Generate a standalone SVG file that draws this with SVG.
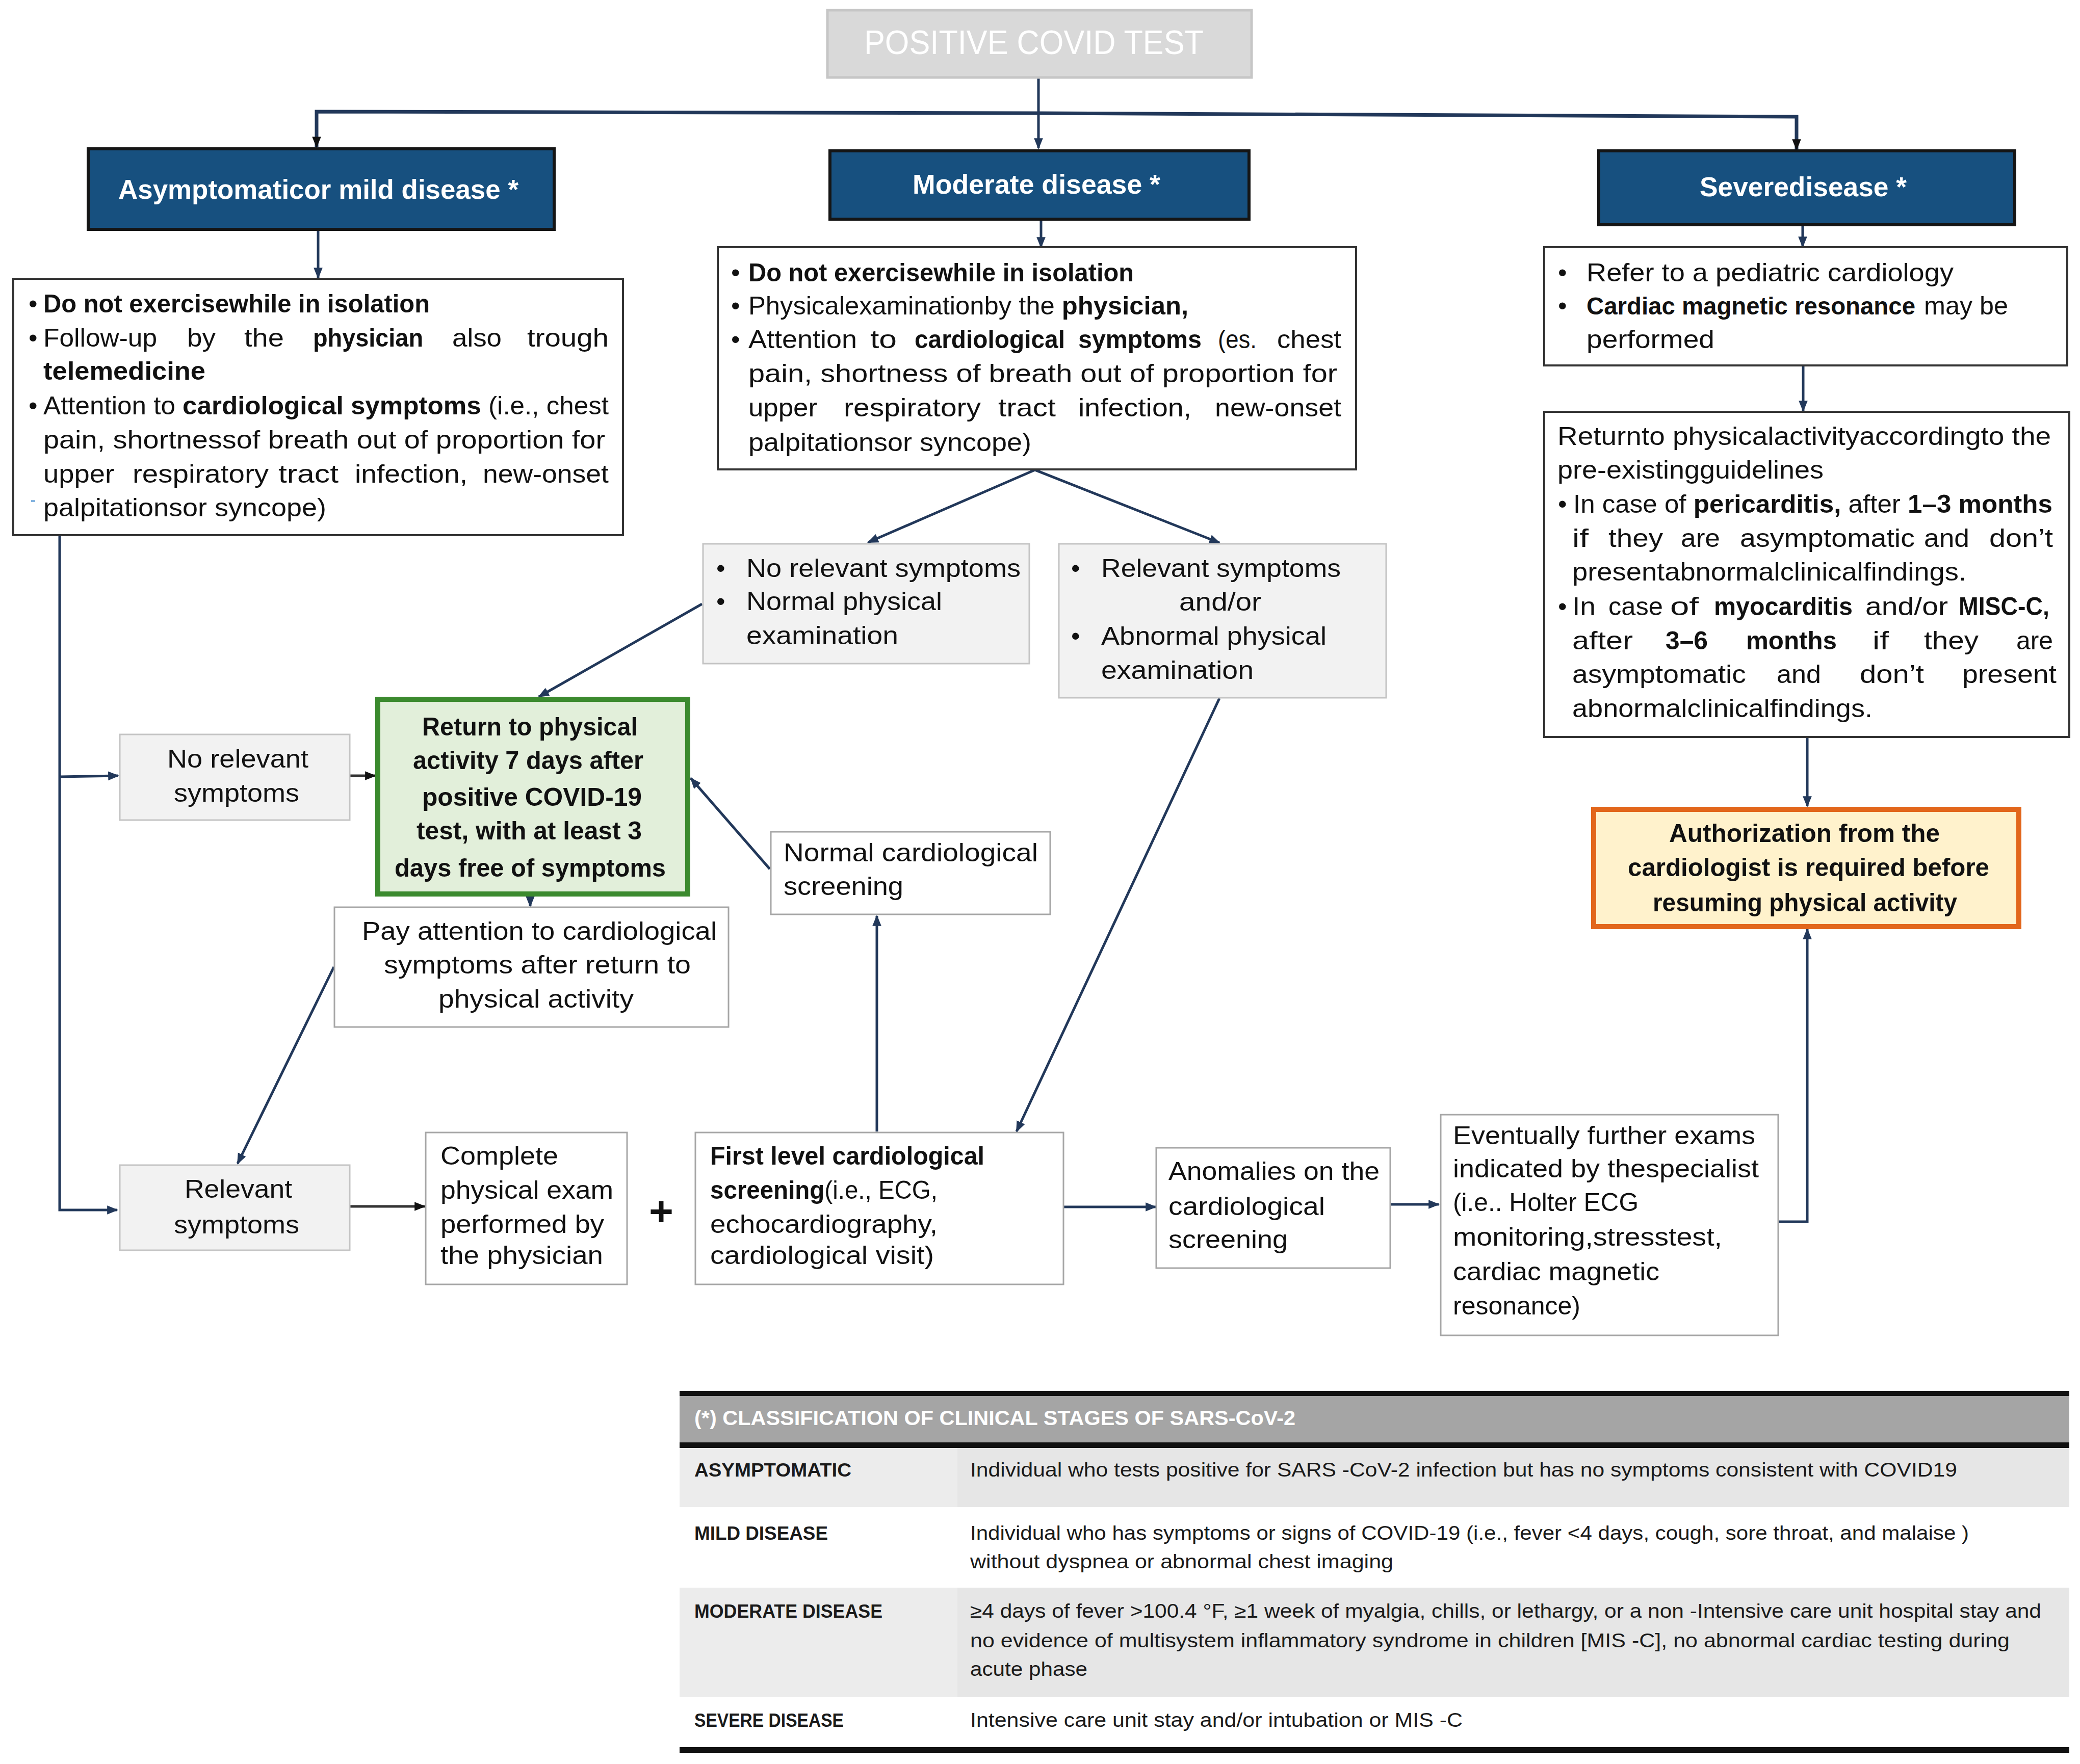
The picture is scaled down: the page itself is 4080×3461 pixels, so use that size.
<svg xmlns="http://www.w3.org/2000/svg" width="4080" height="3461" viewBox="0 0 4080 3461">
<defs>
<style>
text{font-family:"Liberation Sans",Arial,sans-serif;font-size:50px;fill:#111}
.b{font-weight:bold}
.w{fill:#fff}
.hdr{font-weight:bold;font-size:54px;fill:#fff}
.tb{font-size:38px;fill:#1a1a1a}
.tl{font-size:36px;font-weight:bold;fill:#1a1a1a}
.blue{fill:#17507f;stroke:#151515;stroke-width:6}
.dark{fill:#fff;stroke:#333;stroke-width:4}
.gray{fill:#f2f2f2;stroke:#c4c4c4;stroke-width:3}
.wht{fill:#fff;stroke:#a6a6a6;stroke-width:3}
.con{fill:none;stroke:#22385a;stroke-width:5}
</style>
<marker id="ah" viewBox="0 0 10 10" refX="9" refY="5" markerWidth="22" markerHeight="22" markerUnits="userSpaceOnUse" orient="auto"><path d="M0,1 L10,5 L0,9 z" fill="#22385a"/></marker>
<marker id="ahk" viewBox="0 0 10 10" refX="9" refY="5" markerWidth="22" markerHeight="22" markerUnits="userSpaceOnUse" orient="auto"><path d="M0,1 L10,5 L0,9 z" fill="#111"/></marker>
</defs>
<rect width="4080" height="3461" fill="#fff"/>

<g id="connectors">
<path class="con" d="M2037,153 L2037,291" marker-end="url(#ah)"/>
<path class="con" style="stroke-width:7" d="M2037,222 L621,219 L621,288" marker-end="url(#ahk)"/>
<path class="con" style="stroke-width:7" d="M2037,222 L3524,229 L3524,293" marker-end="url(#ahk)"/>
<path class="con" d="M624,451 L624,545" marker-end="url(#ah)"/>
<path class="con" d="M2042,430 L2042,485" marker-end="url(#ah)"/>
<path class="con" d="M3536,441 L3536,484" marker-end="url(#ah)"/>
<path class="con" d="M3537,717 L3537,806" marker-end="url(#ah)"/>
<path class="con" d="M3545,1446 L3545,1582" marker-end="url(#ah)"/>
<path class="con" d="M2030,922 L1703,1064" marker-end="url(#ah)"/>
<path class="con" d="M2030,922 L2392,1065" marker-end="url(#ah)"/>
<path class="con" d="M1377,1185 L1057,1367" marker-end="url(#ah)"/>
<path class="con" d="M2392,1370 L1994,2220" marker-end="url(#ah)"/>
<path class="con" d="M117,1051 L117,2374 L230,2374" marker-end="url(#ah)"/>
<path class="con" d="M117,1524 L232,1522" marker-end="url(#ah)"/>
<path class="con" style="stroke:#333" d="M686,1522 L736,1522" marker-end="url(#ahk)"/>
<path class="con" d="M1040,1760 L1040,1778" marker-end="url(#ah)"/>
<path class="con" d="M1510,1705 L1355,1527" marker-end="url(#ah)"/>
<path class="con" d="M1720,2220 L1720,1797" marker-end="url(#ah)"/>
<path class="con" d="M655,1897 L466,2283" marker-end="url(#ah)"/>
<path class="con" style="stroke:#333" d="M686,2367 L833,2367" marker-end="url(#ahk)"/>
<path class="con" d="M2087,2368 L2267,2368" marker-end="url(#ah)"/>
<path class="con" d="M2729,2363 L2822,2363" marker-end="url(#ah)"/>
<path class="con" d="M3490,2397 L3545,2397 L3545,1823" marker-end="url(#ah)"/>
</g>

<g id="title">
<rect x="1623" y="20" width="832" height="132" fill="#d9d9d9" stroke="#c6c6c6" stroke-width="5"/>
<text class="w" x="1695" y="106" style="font-size:66px" textLength="666" lengthAdjust="spacingAndGlyphs">POSITIVE COVID TEST</text>
</g>

<g id="hdr-asym">
<rect class="blue" x="173" y="292" width="914" height="158"/>
<text class="hdr" x="232" y="390" textLength="785" lengthAdjust="spacingAndGlyphs">Asymptomaticor mild disease *</text>
</g>
<g id="hdr-moderate">
<rect class="blue" x="1628" y="296" width="822" height="134"/>
<text class="hdr" x="1790" y="380" textLength="486" lengthAdjust="spacingAndGlyphs">Moderate disease *</text>
</g>
<g id="hdr-severe">
<rect class="blue" x="3136" y="296" width="816" height="145"/>
<text class="hdr" x="3334" y="385" textLength="406" lengthAdjust="spacingAndGlyphs">Severedisease *</text>
</g>

<g id="box-asym">
<rect class="dark" x="26" y="547" width="1196" height="503"/>
<text x="56" y="613">•</text>
<text class="b" x="85" y="613" textLength="758" lengthAdjust="spacingAndGlyphs">Do not exercisewhile in isolation</text>
<text x="56" y="680">•</text>
<text y="680"><tspan x="85" textLength="223" lengthAdjust="spacingAndGlyphs">Follow-up</tspan> <tspan x="367" textLength="56" lengthAdjust="spacingAndGlyphs">by</tspan> <tspan x="479" textLength="78" lengthAdjust="spacingAndGlyphs">the</tspan> <tspan class="b" x="614" textLength="216" lengthAdjust="spacingAndGlyphs">physician</tspan> <tspan x="887" textLength="97" lengthAdjust="spacingAndGlyphs">also</tspan> <tspan x="1034" textLength="160" lengthAdjust="spacingAndGlyphs">trough</tspan></text>
<text class="b" x="85" y="745" textLength="318" lengthAdjust="spacingAndGlyphs">telemedicine</text>
<text x="56" y="813">•</text>
<text x="85" y="813" textLength="1109" lengthAdjust="spacingAndGlyphs">Attention to <tspan class="b">cardiological symptoms</tspan> (i.e., chest</text>
<text x="85" y="880" textLength="1102" lengthAdjust="spacingAndGlyphs">pain, shortnessof breath out of proportion for</text>
<text y="947"><tspan x="85" textLength="139" lengthAdjust="spacingAndGlyphs">upper</tspan> <tspan x="260" textLength="267" lengthAdjust="spacingAndGlyphs">respiratory</tspan> <tspan x="546" textLength="118" lengthAdjust="spacingAndGlyphs">tract</tspan> <tspan x="696" textLength="221" lengthAdjust="spacingAndGlyphs">infection,</tspan> <tspan x="947" textLength="247" lengthAdjust="spacingAndGlyphs">new-onset</tspan></text>
<line x1="61" y1="983" x2="69" y2="983" stroke="#5b9bd5" stroke-width="3"/>
<text x="85" y="1013" textLength="555" lengthAdjust="spacingAndGlyphs">palpitationsor syncope)</text>
</g>

<g id="box-moderate">
<rect class="dark" x="1408" y="485" width="1252" height="436"/>
<text x="1434" y="552">•</text>
<text class="b" x="1468" y="552" textLength="756" lengthAdjust="spacingAndGlyphs">Do not exercisewhile in isolation</text>
<text x="1434" y="617">•</text>
<text x="1468" y="617" textLength="863" lengthAdjust="spacingAndGlyphs">Physicalexaminationby the <tspan class="b">physician,</tspan></text>
<text x="1434" y="683">•</text>
<text y="683"><tspan x="1468" textLength="213" lengthAdjust="spacingAndGlyphs">Attention</tspan> <tspan x="1707" textLength="52" lengthAdjust="spacingAndGlyphs">to</tspan> <tspan class="b" x="1794" textLength="295" lengthAdjust="spacingAndGlyphs">cardiological</tspan> <tspan class="b" x="2115" textLength="242" lengthAdjust="spacingAndGlyphs">symptoms</tspan> <tspan x="2389" textLength="76" lengthAdjust="spacingAndGlyphs">(es.</tspan> <tspan x="2505" textLength="126" lengthAdjust="spacingAndGlyphs">chest</tspan></text>
<text x="1468" y="750" textLength="1155" lengthAdjust="spacingAndGlyphs">pain, shortness of breath out of proportion for</text>
<text y="817"><tspan x="1468" textLength="135" lengthAdjust="spacingAndGlyphs">upper</tspan> <tspan x="1655" textLength="269" lengthAdjust="spacingAndGlyphs">respiratory</tspan> <tspan x="1958" textLength="113" lengthAdjust="spacingAndGlyphs">tract</tspan> <tspan x="2115" textLength="222" lengthAdjust="spacingAndGlyphs">infection,</tspan> <tspan x="2383" textLength="248" lengthAdjust="spacingAndGlyphs">new-onset</tspan></text>
<text x="1468" y="885" textLength="555" lengthAdjust="spacingAndGlyphs">palpitationsor syncope)</text>
</g>

<g id="box-severe">
<rect class="dark" x="3029" y="485" width="1026" height="232"/>
<text x="3056" y="552">•</text>
<text x="3112" y="552" textLength="720" lengthAdjust="spacingAndGlyphs">Refer to a pediatric cardiology</text>
<text x="3056" y="617">•</text>
<text class="b" x="3112" y="617" style="font-size:48px" textLength="645" lengthAdjust="spacingAndGlyphs">Cardiac magnetic resonance</text>
<text x="3774" y="617" textLength="165" lengthAdjust="spacingAndGlyphs">may be</text>
<text x="3112" y="683" textLength="251" lengthAdjust="spacingAndGlyphs">performed</text>
</g>

<g id="box-severe-return">
<rect class="dark" x="3029" y="808" width="1030" height="638"/>
<text x="3055" y="873" textLength="968" lengthAdjust="spacingAndGlyphs">Returnto physicalactivityaccordingto the</text>
<text x="3055" y="939" textLength="522" lengthAdjust="spacingAndGlyphs">pre-existingguidelines</text>
<text x="3056" y="1006">•</text>
<text x="3086" y="1006" textLength="940" lengthAdjust="spacingAndGlyphs">In case of <tspan class="b">pericarditis,</tspan> after <tspan class="b">1–3 months</tspan></text>
<text y="1073"><tspan x="3084" textLength="32" lengthAdjust="spacingAndGlyphs">if</tspan> <tspan x="3155" textLength="107" lengthAdjust="spacingAndGlyphs">they</tspan> <tspan x="3297" textLength="77" lengthAdjust="spacingAndGlyphs">are</tspan> <tspan x="3413" textLength="343" lengthAdjust="spacingAndGlyphs">asymptomatic</tspan> <tspan x="3774" textLength="89" lengthAdjust="spacingAndGlyphs">and</tspan> <tspan x="3902" textLength="125" lengthAdjust="spacingAndGlyphs">don’t</tspan></text>
<text x="3084" y="1139" textLength="773" lengthAdjust="spacingAndGlyphs">presentabnormalclinicalfindings.</text>
<text x="3056" y="1207">•</text>
<text y="1207"><tspan x="3084" textLength="46" lengthAdjust="spacingAndGlyphs">In</tspan> <tspan x="3155" textLength="107" lengthAdjust="spacingAndGlyphs">case</tspan> <tspan x="3276" textLength="56" lengthAdjust="spacingAndGlyphs">of</tspan> <tspan class="b" x="3362" textLength="272" lengthAdjust="spacingAndGlyphs">myocarditis</tspan> <tspan x="3659" textLength="162" lengthAdjust="spacingAndGlyphs">and/or</tspan> <tspan class="b" x="3842" textLength="178" lengthAdjust="spacingAndGlyphs">MISC-C,</tspan></text>
<text y="1274"><tspan x="3084" textLength="119" lengthAdjust="spacingAndGlyphs">after</tspan> <tspan class="b" x="3267" textLength="83" lengthAdjust="spacingAndGlyphs">3–6</tspan> <tspan class="b" x="3425" textLength="178" lengthAdjust="spacingAndGlyphs">months</tspan> <tspan x="3673" textLength="32" lengthAdjust="spacingAndGlyphs">if</tspan> <tspan x="3774" textLength="107" lengthAdjust="spacingAndGlyphs">they</tspan> <tspan x="3955" textLength="72" lengthAdjust="spacingAndGlyphs">are</tspan></text>
<text y="1340"><tspan x="3084" textLength="341" lengthAdjust="spacingAndGlyphs">asymptomatic</tspan> <tspan x="3485" textLength="87" lengthAdjust="spacingAndGlyphs">and</tspan> <tspan x="3648" textLength="126" lengthAdjust="spacingAndGlyphs">don’t</tspan> <tspan x="3849" textLength="185" lengthAdjust="spacingAndGlyphs">present</tspan></text>
<text x="3084" y="1407" textLength="589" lengthAdjust="spacingAndGlyphs">abnormalclinicalfindings.</text>
</g>

<g id="authorization">
<rect x="3126" y="1588" width="834" height="230" fill="#fff2cc" stroke="#e2661b" stroke-width="10"/>
<text class="b" x="3274" y="1652" textLength="531" lengthAdjust="spacingAndGlyphs">Authorization from the</text>
<text class="b" x="3193" y="1719" textLength="709" lengthAdjust="spacingAndGlyphs">cardiologist is required before</text>
<text class="b" x="3242" y="1788" textLength="597" lengthAdjust="spacingAndGlyphs">resuming physical activity</text>
</g>

<g id="mod-norelevant">
<rect class="gray" x="1379" y="1067" width="640" height="235"/>
<text x="1405" y="1132">•</text>
<text x="1464" y="1132" textLength="538" lengthAdjust="spacingAndGlyphs">No relevant symptoms</text>
<text x="1405" y="1197">•</text>
<text x="1464" y="1197" textLength="384" lengthAdjust="spacingAndGlyphs">Normal physical</text>
<text x="1464" y="1264" textLength="298" lengthAdjust="spacingAndGlyphs">examination</text>
</g>

<g id="mod-relevant">
<rect class="gray" x="2077" y="1067" width="642" height="302"/>
<text x="2101" y="1132">•</text>
<text x="2160" y="1132" textLength="470" lengthAdjust="spacingAndGlyphs">Relevant symptoms</text>
<text x="2313" y="1198" textLength="161" lengthAdjust="spacingAndGlyphs">and/or</text>
<text x="2101" y="1265">•</text>
<text x="2160" y="1265" textLength="442" lengthAdjust="spacingAndGlyphs">Abnormal physical</text>
<text x="2160" y="1332" textLength="299" lengthAdjust="spacingAndGlyphs">examination</text>
</g>

<g id="return-7days">
<rect x="741" y="1372" width="608" height="382" fill="#e2efda" stroke="#3b8a2e" stroke-width="10"/>
<text class="b" x="828" y="1443" textLength="423" lengthAdjust="spacingAndGlyphs">Return to physical</text>
<text class="b" x="810" y="1509" textLength="452" lengthAdjust="spacingAndGlyphs">activity 7 days after</text>
<text class="b" x="828" y="1581" textLength="431" lengthAdjust="spacingAndGlyphs">positive COVID-19</text>
<text class="b" x="817" y="1647" textLength="442" lengthAdjust="spacingAndGlyphs">test, with at least 3</text>
<text class="b" x="774" y="1720" textLength="532" lengthAdjust="spacingAndGlyphs">days free of symptoms</text>
</g>

<g id="no-relevant">
<rect class="gray" x="235" y="1441" width="451" height="168"/>
<text x="328" y="1506" textLength="277" lengthAdjust="spacingAndGlyphs">No relevant</text>
<text x="341" y="1573" textLength="246" lengthAdjust="spacingAndGlyphs">symptoms</text>
</g>

<g id="normal-screening">
<rect class="wht" x="1512" y="1632" width="548" height="162"/>
<text x="1537" y="1690" textLength="499" lengthAdjust="spacingAndGlyphs">Normal cardiological</text>
<text x="1537" y="1756" textLength="235" lengthAdjust="spacingAndGlyphs">screening</text>
</g>

<g id="pay-attention">
<rect class="wht" x="656" y="1780" width="773" height="235"/>
<text x="710" y="1844" textLength="696" lengthAdjust="spacingAndGlyphs">Pay attention to cardiological</text>
<text x="753" y="1910" textLength="602" lengthAdjust="spacingAndGlyphs">symptoms after return to</text>
<text x="860" y="1977" textLength="383" lengthAdjust="spacingAndGlyphs">physical activity</text>
</g>

<g id="relevant">
<rect class="gray" x="235" y="2286" width="451" height="167"/>
<text x="362" y="2350" textLength="211" lengthAdjust="spacingAndGlyphs">Relevant</text>
<text x="341" y="2420" textLength="246" lengthAdjust="spacingAndGlyphs">symptoms</text>
</g>

<g id="complete-exam">
<rect class="wht" x="835" y="2222" width="395" height="298"/>
<text x="864" y="2285" textLength="231" lengthAdjust="spacingAndGlyphs">Complete</text>
<text x="864" y="2352" textLength="339" lengthAdjust="spacingAndGlyphs">physical exam</text>
<text x="864" y="2419" textLength="321" lengthAdjust="spacingAndGlyphs">performed by</text>
<text x="864" y="2480" textLength="319" lengthAdjust="spacingAndGlyphs">the physician</text>
</g>

<g id="plus">
<text class="b" x="1297" y="2404" text-anchor="middle" style="font-size:82px">+</text>
</g>

<g id="first-level">
<rect class="wht" x="1364" y="2222" width="722" height="298"/>
<text class="b" x="1393" y="2285" textLength="538" lengthAdjust="spacingAndGlyphs">First level cardiological</text>
<text x="1393" y="2352" textLength="446" lengthAdjust="spacingAndGlyphs"><tspan class="b">screening</tspan>(i.e., ECG,</text>
<text x="1393" y="2419" textLength="446" lengthAdjust="spacingAndGlyphs">echocardiography,</text>
<text x="1393" y="2480" textLength="439" lengthAdjust="spacingAndGlyphs">cardiological visit)</text>
</g>

<g id="anomalies">
<rect class="wht" x="2268" y="2252" width="459" height="236"/>
<text x="2292" y="2315" textLength="414" lengthAdjust="spacingAndGlyphs">Anomalies on the</text>
<text x="2292" y="2384" textLength="307" lengthAdjust="spacingAndGlyphs">cardiological</text>
<text x="2292" y="2449" textLength="234" lengthAdjust="spacingAndGlyphs">screening</text>
</g>

<g id="further-exams">
<rect class="wht" x="2826" y="2187" width="662" height="433"/>
<text x="2850" y="2245" textLength="593" lengthAdjust="spacingAndGlyphs">Eventually further exams</text>
<text x="2850" y="2310" textLength="600" lengthAdjust="spacingAndGlyphs">indicated by thespecialist</text>
<text x="2850" y="2376" textLength="364" lengthAdjust="spacingAndGlyphs">(i.e.. Holter ECG</text>
<text x="2850" y="2444" textLength="528" lengthAdjust="spacingAndGlyphs">monitoring,stresstest,</text>
<text x="2850" y="2512" textLength="405" lengthAdjust="spacingAndGlyphs">cardiac magnetic</text>
<text x="2850" y="2579" textLength="250" lengthAdjust="spacingAndGlyphs">resonance)</text>
</g>

<g id="classification-table">
<rect x="1333" y="2729" width="2726" height="10" fill="#111"/>
<rect x="1333" y="2739" width="2726" height="91" fill="#a5a5a5"/>
<rect x="1333" y="2830" width="2726" height="11" fill="#111"/>
<rect x="1333" y="2841" width="545" height="116" fill="#ececec"/>
<rect x="1878" y="2841" width="2181" height="116" fill="#e6e6e6"/>
<rect x="1333" y="3115" width="545" height="215" fill="#ececec"/>
<rect x="1878" y="3115" width="2181" height="215" fill="#e6e6e6"/>
<rect x="1333" y="3428" width="2726" height="11" fill="#111"/>
<text class="w b" x="1362" y="2796" style="font-size:40px" textLength="1179" lengthAdjust="spacingAndGlyphs">(*) CLASSIFICATION OF CLINICAL STAGES OF SARS-CoV-2</text>
<text class="tl" x="1362" y="2897" textLength="308" lengthAdjust="spacingAndGlyphs">ASYMPTOMATIC</text>
<text class="tl" x="1362" y="3021" textLength="262" lengthAdjust="spacingAndGlyphs">MILD DISEASE</text>
<text class="tl" x="1362" y="3174" textLength="369" lengthAdjust="spacingAndGlyphs">MODERATE DISEASE</text>
<text class="tl" x="1362" y="3388" textLength="293" lengthAdjust="spacingAndGlyphs">SEVERE DISEASE</text>
<text class="tb" x="1903" y="2897" textLength="1936" lengthAdjust="spacingAndGlyphs">Individual who tests positive for SARS -CoV-2 infection but has no symptoms consistent with COVID19</text>
<text class="tb" x="1903" y="3021" textLength="1959" lengthAdjust="spacingAndGlyphs">Individual who has symptoms or signs of COVID-19 (i.e.,  fever &lt;4 days, cough, sore throat, and malaise )</text>
<text class="tb" x="1903" y="3077" textLength="830" lengthAdjust="spacingAndGlyphs">without dyspnea or abnormal chest imaging</text>
<text class="tb" x="1903" y="3174" textLength="2101" lengthAdjust="spacingAndGlyphs">≥4 days of fever &gt;100.4 °F, ≥1 week of myalgia, chills, or lethargy, or a non   -Intensive care unit hospital stay and</text>
<text class="tb" x="1903" y="3232" textLength="2039" lengthAdjust="spacingAndGlyphs">no evidence of multisystem inflammatory syndrome in children [MIS -C], no abnormal cardiac testing during</text>
<text class="tb" x="1903" y="3288" textLength="230" lengthAdjust="spacingAndGlyphs">acute phase</text>
<text class="tb" x="1903" y="3388" textLength="966" lengthAdjust="spacingAndGlyphs">Intensive care unit stay and/or intubation or MIS -C</text>
</g>
</svg>
